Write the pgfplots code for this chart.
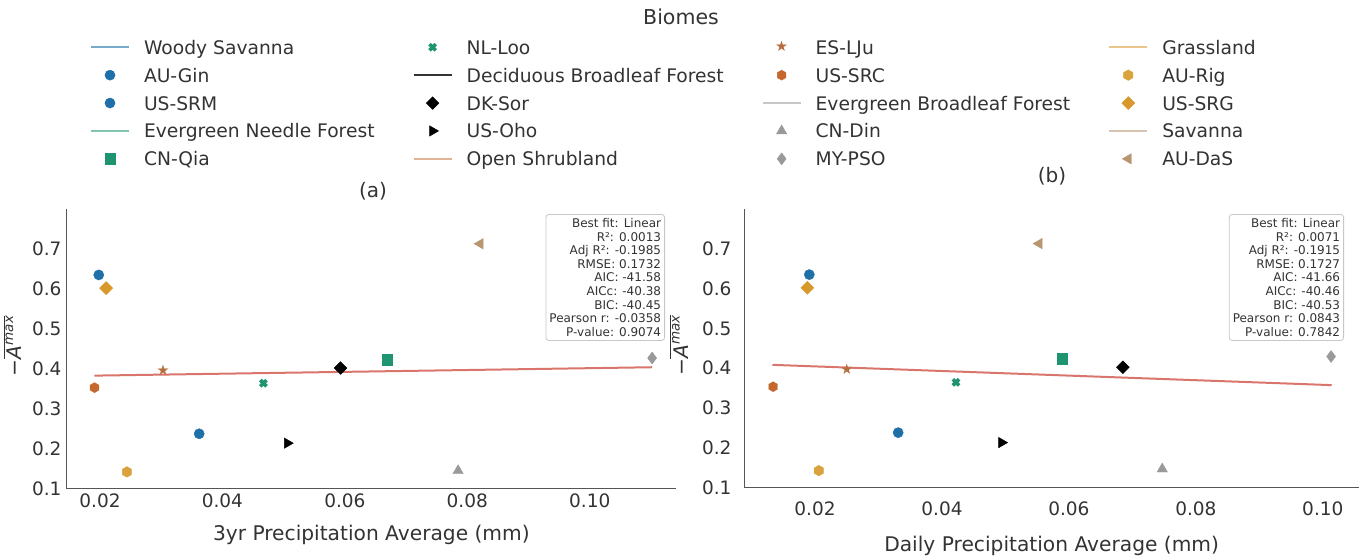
\documentclass[border=0pt]{standalone}
\usepackage{fontspec}
\setmainfont{DejaVu Sans}
\usepackage{pgfplots}
\pgfplotsset{compat=1.18}

\definecolor{txt}{HTML}{333333}
\definecolor{spine}{HTML}{555555}
\definecolor{wsblue}{HTML}{1F6FA8}
\definecolor{enfgreen}{HTML}{1E9470}
\definecolor{osorange}{HTML}{C4682E}
\definecolor{osstar}{HTML}{B56E3E}
\definecolor{ebfgrey}{HTML}{999999}
\definecolor{gold}{HTML}{D8982C}
\definecolor{goldlight}{HTML}{DAA23C}
\definecolor{savtan}{HTML}{B89670}
\definecolor{regred}{HTML}{D9756C}

\pgfdeclareplotmark{hexagon*}{%
  \pgfpathmoveto{\pgfpointpolar{90}{\pgfplotmarksize}}%
  \pgfpathlineto{\pgfpointpolar{150}{\pgfplotmarksize}}%
  \pgfpathlineto{\pgfpointpolar{210}{\pgfplotmarksize}}%
  \pgfpathlineto{\pgfpointpolar{270}{\pgfplotmarksize}}%
  \pgfpathlineto{\pgfpointpolar{330}{\pgfplotmarksize}}%
  \pgfpathlineto{\pgfpointpolar{30}{\pgfplotmarksize}}%
  \pgfpathclose
  \pgfusepathqfillstroke}

\pgfplotsset{
  biomeline/.style={line width=2pt, legend image code/.code={%
      \path[draw=none,fill=none] (-39pt,0pt) -- (53pt,0pt);
      \draw[##1] (0pt,7pt) -- (38pt,7pt);}},
  sitemark/.style={only marks, legend image code/.code={%
      \path[draw=none,fill=none] (-39pt,0pt) -- (53pt,0pt);
      \draw[mark repeat=2,mark phase=2,##1] plot coordinates {(0pt,7pt) (19pt,7pt) (38pt,7pt)};}},
  sAUGin/.style={only marks, mark=*, mark size=5.1pt, color=wsblue},
  sUSSRM/.style={only marks, mark=*, mark size=5.1pt, color=wsblue},
  sCNQia/.style={only marks, mark=square*, mark size=5.2pt, color=enfgreen},
  sNLLoo/.style={only marks, mark=x, mark size=4.4pt, mark options={line width=3.6pt}, color=enfgreen},
  sDKSor/.style={only marks, mark=square*, mark size=4.5pt, mark options={rotate=45}, color=black},
  sUSOho/.style={only marks, mark=triangle*, mark size=6pt, mark options={rotate=-90}, color=black},
  sESLJu/.style={only marks, mark=text, text mark={★}, text mark as node=true,
    text mark style={font=\fontsize{14.5}{14.5}\selectfont, text=osstar, inner sep=0pt, anchor=center}, color=osstar},
  sUSSRC/.style={only marks, mark=hexagon*, mark size=5pt, color=osorange},
  sCNDin/.style={only marks, mark=triangle*, mark size=6pt, color=ebfgrey},
  sMYPSO/.style={only marks, mark=diamond*, mark size=6pt, color=ebfgrey},
  sAURig/.style={only marks, mark=hexagon*, mark size=5.3pt, color=goldlight},
  sUSSRG/.style={only marks, mark=square*, mark size=4.6pt, mark options={rotate=45}, color=gold},
  sAUDaS/.style={only marks, mark=triangle*, mark size=6pt, mark options={rotate=90}, color=savtan},
  common/.style={
    scale only axis, clip=false,
    axis x line*=bottom, axis y line*=left,
    axis line style={-, draw=spine, line width=1.3pt},
    major tick length=0pt, tick style={draw=none},
    xtick={0.02,0.04,0.06,0.08,0.10},
    xticklabels={0.02,0.04,0.06,0.08,0.10},
    ytick={0.1,0.2,0.3,0.4,0.5,0.6,0.7},
    yticklabels={0.1,0.2,0.3,0.4,0.5,0.6,0.7},
    ticklabel style={font=\fontsize{18.5}{18.5}\selectfont, text=txt, inner sep=0pt},
    xticklabel style={anchor=north},
    yticklabel style={anchor=east},
    label style={font=\fontsize{20.2}{20.2}\selectfont, text=txt},
    ymin=0.1, ymax=0.8,
    ylabel={−$\overline{\hbox{\itshape A\raisebox{0.42em}{\fontsize{13.5}{13.5}\selectfont max}}}$},
  },
}

\begin{document}
\begin{tikzpicture}[x=1pt,y=1pt]
\useasboundingbox (0pt,0pt) rectangle (1364pt,-559pt);

\node[font=\fontsize{20.5}{20.5}\selectfont, text=txt, anchor=base] at (681pt,-25pt) {Biomes};
\node[font=\fontsize{20}{20}\selectfont, text=txt] at (373pt,-191pt) {(a)};
\node[font=\fontsize{20}{20}\selectfont, text=txt] at (1052pt,-176.5pt) {(b)};

% ---------------- left panel ----------------
\begin{axis}[common,
  at={(66.7pt,-488.7pt)}, anchor=south west,
  width=609.3pt, height=279.7pt,
  xmin=0.01456, xmax=0.1141,
  xticklabel style={yshift=-4.6pt},
  yticklabel style={xshift=-5pt},
  xlabel={3yr Precipitation Average (mm)},
  xlabel style={at={(axis description cs:0.5,0)}, anchor=base, yshift=-51.3pt},
  ylabel style={at={(axis description cs:-0.0739,0.51)}, anchor=base},
  legend columns=4,
  legend style={at={(axis description cs:-0.02413,1.6114)}, anchor=north west,
    draw=none, fill=none, inner sep=0pt, outer sep=0pt,
    row sep=9.4pt, column sep=0pt,
    cells={anchor=base west},
    nodes={inner sep=0pt, text height=14pt, text depth=4.5pt,
      font=\fontsize{18.7}{18.7}\selectfont, text=txt}},
]
% legend (row-major order reproducing the column-major layout)
\addlegendimage{biomeline, color=wsblue, opacity=0.6}\addlegendentry{Woody Savanna}
\addlegendimage{sitemark, sNLLoo}\addlegendentry{NL-Loo}
\addlegendimage{sitemark, sESLJu}\addlegendentry{ES-LJu}
\addlegendimage{biomeline, color=gold, opacity=0.55}\addlegendentry{Grassland}
\addlegendimage{sitemark, sAUGin}\addlegendentry{AU-Gin}
\addlegendimage{biomeline, color=black, opacity=0.8}\addlegendentry{Deciduous Broadleaf Forest}
\addlegendimage{sitemark, sUSSRC}\addlegendentry{US-SRC}
\addlegendimage{sitemark, sAURig}\addlegendentry{AU-Rig}
\addlegendimage{sitemark, sUSSRM}\addlegendentry{US-SRM}
\addlegendimage{sitemark, sDKSor}\addlegendentry{DK-Sor}
\addlegendimage{biomeline, color=ebfgrey, opacity=0.55}\addlegendentry{Evergreen Broadleaf Forest}
\addlegendimage{sitemark, sUSSRG}\addlegendentry{US-SRG}
\addlegendimage{biomeline, color=enfgreen, opacity=0.55}\addlegendentry{Evergreen Needle Forest}
\addlegendimage{sitemark, sUSOho}\addlegendentry{US-Oho}
\addlegendimage{sitemark, sCNDin}\addlegendentry{CN-Din}
\addlegendimage{biomeline, color=savtan, opacity=0.55}\addlegendentry{Savanna}
\addlegendimage{sitemark, sCNQia}\addlegendentry{CN-Qia}
\addlegendimage{biomeline, color=osorange, opacity=0.5}\addlegendentry{Open Shrubland}
\addlegendimage{sitemark, sMYPSO}\addlegendentry{MY-PSO}
\addlegendimage{sitemark, sAUDaS}\addlegendentry{AU-DaS}

\addplot[forget plot, no marks, color=regred, line width=2pt] coordinates {(0.0191,0.383) (0.1102,0.404)};
\addplot[forget plot, sAUGin] coordinates {(0.0198,0.635)};
\addplot[forget plot, sUSSRM] coordinates {(0.0362,0.2375)};
\addplot[forget plot, sCNQia] coordinates {(0.0669,0.423)};
\addplot[forget plot, sNLLoo] coordinates {(0.0467,0.364)};
\addplot[forget plot, sDKSor] coordinates {(0.0593,0.402)};
\addplot[forget plot, sUSOho] coordinates {(0.0506,0.214)};
\addplot[forget plot, sESLJu] coordinates {(0.0303,0.397)};
\addplot[forget plot, sUSSRC] coordinates {(0.0191,0.353)};
\addplot[forget plot, sCNDin] coordinates {(0.0785,0.145)};
\addplot[forget plot, sMYPSO] coordinates {(0.1102,0.427)};
\addplot[forget plot, sAURig] coordinates {(0.0244,0.142)};
\addplot[forget plot, sUSSRG] coordinates {(0.0210,0.602)};
\addplot[forget plot, sAUDaS] coordinates {(0.0821,0.713)};
\end{axis}

% ---------------- right panel ----------------
\begin{axis}[common,
  at={(744.3pt,-487.3pt)}, anchor=south west,
  width=614.7pt, height=278.3pt,
  xmin=0.00886, xmax=0.1057,
  xticklabel style={yshift=-14.4pt},
  yticklabel style={xshift=-12.6pt},
  xlabel={Daily Precipitation Average (mm)},
  xlabel style={at={(axis description cs:0.5,0)}, anchor=base, yshift=-64.4pt},
  ylabel style={at={(axis description cs:-0.0916,0.51)}, anchor=base},
]
\addplot[forget plot, no marks, color=regred, line width=2pt] coordinates {(0.0133,0.408) (0.1014,0.357)};
\addplot[forget plot, sAUGin] coordinates {(0.0191,0.635)};
\addplot[forget plot, sUSSRM] coordinates {(0.0331,0.2375)};
\addplot[forget plot, sCNQia] coordinates {(0.0589,0.423)};
\addplot[forget plot, sNLLoo] coordinates {(0.0422,0.364)};
\addplot[forget plot, sDKSor] coordinates {(0.0685,0.402)};
\addplot[forget plot, sUSOho] coordinates {(0.0494,0.2125)};
\addplot[forget plot, sESLJu] coordinates {(0.0250,0.3975)};
\addplot[forget plot, sUSSRC] coordinates {(0.0134,0.353)};
\addplot[forget plot, sCNDin] coordinates {(0.0747,0.146)};
\addplot[forget plot, sMYPSO] coordinates {(0.1013,0.429)};
\addplot[forget plot, sAURig] coordinates {(0.0206,0.142)};
\addplot[forget plot, sUSSRG] coordinates {(0.0188,0.602)};
\addplot[forget plot, sAUDaS] coordinates {(0.0553,0.713)};
\end{axis}

% statistics boxes
\node[draw=black!22, line width=0.8pt, rounded corners=3pt, fill=white, fill opacity=0.85, text opacity=1,
  align=right, text=txt, font=\fontsize{12}{13.6}\selectfont,
  inner xsep=3.5pt, inner ysep=4pt, anchor=north east] at (665pt,-214pt)
  {Best fit: Linear\\R²: 0.0013\\Adj R²: -0.1985\\RMSE: 0.1732\\AIC: -41.58\\AICc: -40.38\\BIC: -40.45\\Pearson r: -0.0358\\P-value: 0.9074};
\node[draw=black!22, line width=0.8pt, rounded corners=3pt, fill=white, fill opacity=0.85, text opacity=1,
  align=right, text=txt, font=\fontsize{12}{13.6}\selectfont,
  inner xsep=3.5pt, inner ysep=4pt, anchor=north east] at (1344pt,-214pt)
  {Best fit: Linear\\R²: 0.0071\\Adj R²: -0.1915\\RMSE: 0.1727\\AIC: -41.66\\AICc: -40.46\\BIC: -40.53\\Pearson r: 0.0843\\P-value: 0.7842};
\end{tikzpicture}
\end{document}
